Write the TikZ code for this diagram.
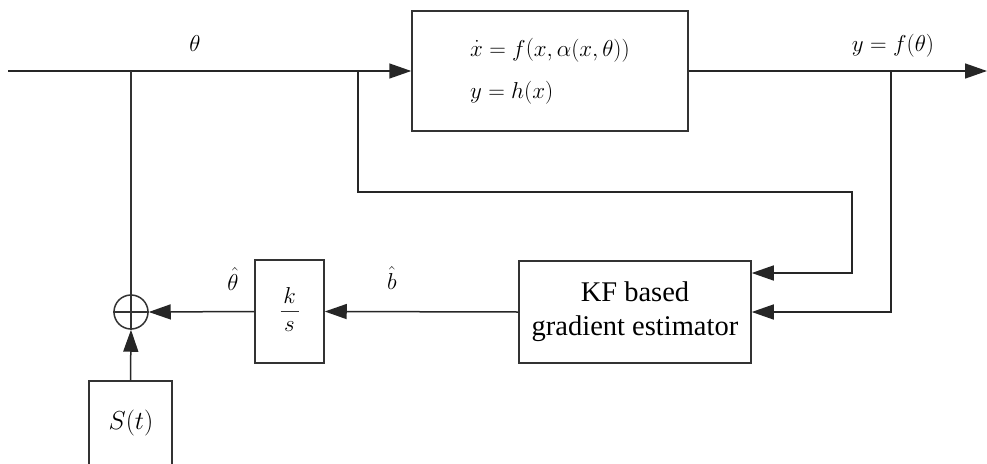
\RequirePackage{fix-cm}
\documentclass[tikz,border=0pt]{standalone}
\usepackage{fontspec}
\setmainfont{Liberation Serif}
\usetikzlibrary{arrows.meta,calc}

\begin{document}
\begin{tikzpicture}[x=1pt,y=-1pt,
  line width=1.5pt, draw=black!80,
  blockbox/.style={draw, line width=1.5pt, inner sep=0pt},
  sig/.style={-{Triangle[length=22pt,width=15pt]}, draw=black!85, line width=1.5pt},
  wire/.style={draw=black!80, line width=1.5pt},
  mathlbl/.style={font=\fontsize{23}{27}\selectfont},
  txtlbl/.style={font=\fontsize{28.5}{34}\selectfont, align=center},
]
\useasboundingbox (0,0) rectangle (987,463);

% plant block
\node[blockbox, minimum width=276pt, minimum height=120pt] (plant) at (550,71) {};
\node[mathlbl, anchor=base west] (eqa) at (466,56) {$\dot x = f\bigl(x,\alpha(x,\theta)\bigr)$};
\node[mathlbl, anchor=base west] (eqb) at (466,98) {$y = h(x)$};

% estimator, integrator, summing junction, dither source
\node[blockbox, minimum width=232pt, minimum height=102pt, txtlbl] (kf) at (635,312)
  {KF based\\gradient estimator};
\node[blockbox, minimum width=69pt, minimum height=103pt] (int) at (289.5,311.5) {};
\node[mathlbl] (intk) at (289.5,296) {$k$};
\node[mathlbl] (ints) at (289.5,327) {$s$};
\draw[line width=1.3pt] ($(int.center)+(-9,0)$) -- ($(int.center)+(9,0)$);
\node[circle, draw, line width=1.5pt, minimum size=34pt, inner sep=0pt] (sum) at (131,312) {};
\draw[wire, line width=1.2pt] (sum.north) -- (sum.south) (sum.west) -- (sum.east);
\node[blockbox, minimum width=83pt, minimum height=100pt] (dith) at (130.5,431) {};
\node[mathlbl, font=\fontsize{26}{30}\selectfont] (dithtxt) at (131,423) {$S(t)$};

% signal labels
\node[mathlbl] (lth) at (195,44) {$\theta$};
\node[mathlbl] (lthh) at (233,279) {$\hat{\theta}$};
\node[mathlbl] (lbh) at (392,278) {$\hat{b}$};
\node[mathlbl] (ly) at (893,46) {$y = f(\theta)$};

% branch points and free ends
\coordinate (in) at (8,71);
\coordinate (out) at (987,71);
\coordinate (tapa) at (131,71);
\coordinate (tapb) at (358,71);
\coordinate (tapc) at (891,71);

% main path
\draw[sig] (in) -- (plant.west);
\draw[sig] (plant.east) -- (out);

% feedback paths
\draw[wire] (tapa) -- (sum.north);
\draw[sig] (tapb) -- (358,192) -- (852,192) -- (852,273) -- ($(kf.east)+(0,-39)$);
\draw[sig] (tapc) -- (891,312) -- (kf.east);
\draw[sig] (kf.west) -- (int.east);
\draw[sig] (int.west) -- (sum.east);
\draw[sig] (dith.north) -- (sum.south);
\end{tikzpicture}
\end{document}
